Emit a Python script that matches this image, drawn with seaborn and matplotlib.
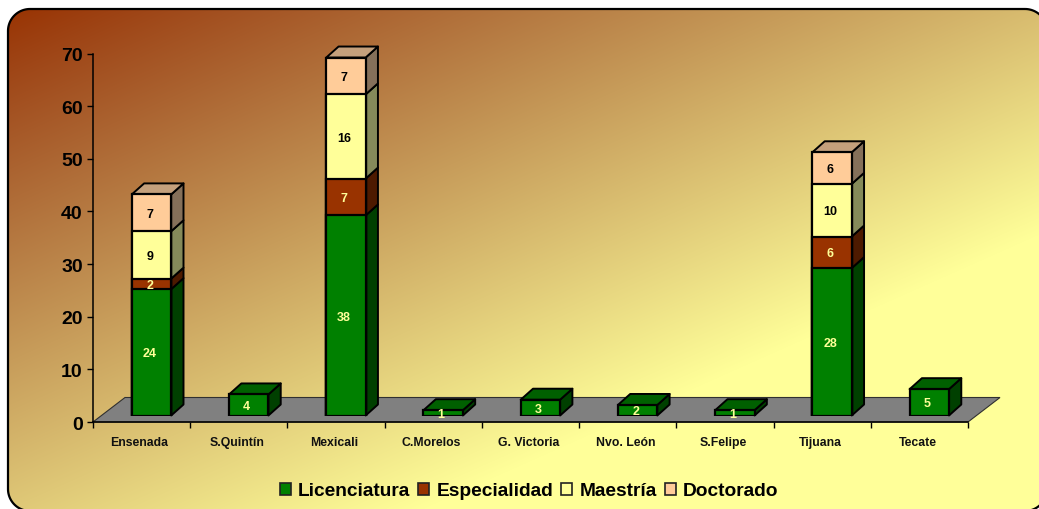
import numpy as np
import pandas as pd
import matplotlib
matplotlib.use("Agg")
import matplotlib.pyplot as plt
from matplotlib.patches import Polygon, Patch
from matplotlib.transforms import ScaledTranslation
import seaborn as sns

campuses = ["Ensenada", "S.Quintín", "Mexicali", "C.Morelos", "G. Victoria",
            "Nvo. León", "S.Felipe", "Tijuana", "Tecate"]
licenciatura = [24, 4, 38, 1, 3, 2, 1, 28, 5]
especialidad = [2, 0, 7, 0, 0, 0, 0, 6, 0]
maestria = [9, 0, 16, 0, 0, 0, 0, 10, 0]
doctorado = [7, 0, 7, 0, 0, 0, 0, 6, 0]
y_ticks = [0, 10, 20, 30, 40, 50, 60, 70]

series_names = ["Licenciatura", "Especialidad", "Maestría", "Doctorado"]
series_vals = [licenciatura, especialidad, maestria, doctorado]
front_cols = ["#008000", "#993300", "#FFFF99", "#FFCC99"]
side_cols = ["#004000", "#4D1A00", "#858A5A", "#85705A"]
top_cols = ["#006000", "#732600", "#BFBF73", "#C4A07C"]
label_cols = ["#FFFF99", "#FFFF99", "#000000", "#000000"]

sns.set_theme(style="white")
plt.rcParams["font.family"] = ["Liberation Sans", "DejaVu Sans"]

W, H = 1039, 510
fig = plt.figure(figsize=(W / 100, H / 100), dpi=100, facecolor="white")


def rect(left, top, right, bottom):
    return [left / W, 1 - bottom / H, (right - left) / W, (bottom - top) / H]


def round_rect_points(l, t, r, b, rad, n=24):
    """Outline of a rounded rectangle as a polyline (screen-style y, downwards)."""
    pts = []
    corners = [(r - rad, t + rad, -90), (r - rad, b - rad, 0),
               (l + rad, b - rad, 90), (l + rad, t + rad, 180)]
    for cx, cy, start in corners:
        a = np.radians(np.linspace(start, start + 90, n))
        pts.append(np.column_stack([cx + rad * np.cos(a), cy + rad * np.sin(a)]))
    return np.vstack(pts)


# Background gradient in a rounded frame
bg = fig.add_axes([0, 0, 1, 1], zorder=0)
bg.set_xlim(0, W)
bg.set_ylim(H, 0)
bg.axis("off")
xx, yy = np.meshgrid(np.arange(W) + .5, np.arange(H) + .5)
t = np.clip(0.00065 * (xx - 8) + 0.00146 * (yy - 10), 0, 1)
c0 = np.array([0x99, 0x33, 0x00]) / 255
c1 = np.array([0xFF, 0xFF, 0x99]) / 255
grad = np.dstack([c0[j] + (c1[j] - c0[j]) * t ** e for j, e in enumerate([1.2, 1.0, 0.8])])
im = bg.imshow(grad, extent=(0, W, H, 0), aspect="auto", interpolation="bilinear")
frame = Polygon(round_rect_points(8, 10, 1047, 512, 22), closed=True, fc="none", ec="black",
                lw=1.6, zorder=3, clip_on=False)
bg.add_patch(frame)
im.set_clip_path(frame)

# Main axes: scale, axis lines, floor
AX_L, AX_R, AX_T, AX_B = 93, 968, 54.5, 423
ax = fig.add_axes(rect(AX_L, AX_T, AX_R, AX_B), zorder=1)
ax.patch.set_visible(False)
x_pos = np.arange(len(campuses))
ax.set_xlim(-0.5, len(campuses) - 0.5)
ax.set_ylim(0, 70)
px_x = (len(campuses)) / (AX_R - AX_L)
px_y = 70 / (AX_B - AX_T)

floor_dx, floor_dy = 32 * px_x, 24.5 * px_y
ax.add_patch(Polygon([(-0.5, 0), (8.5, 0), (8.5 + floor_dx, floor_dy), (-0.5 + floor_dx, floor_dy)],
                     closed=True, fc="#808080", ec="#303030", lw=0.8, clip_on=False, zorder=1))
for s in ["top", "right"]:
    ax.spines[s].set_visible(False)
for s in ["left", "bottom"]:
    ax.spines[s].set_color("black")
    ax.spines[s].set_linewidth(1.1)
ax.set_yticks(y_ticks)
ax.set_xticks(x_pos)
ax.set_xticklabels(campuses, fontsize=8.8, fontweight="bold", color="#111111")
ax.set_xticks(np.arange(-0.5, len(campuses)), minor=True)
ax.tick_params(axis="x", which="major", length=0, pad=10, bottom=False)
ax.tick_params(axis="x", which="minor", length=4.3, width=1, color="black", bottom=True)
ax.tick_params(axis="y", length=4.3, width=1, color="black", left=True, pad=3,
               labelsize=14, labelcolor="black")
for lab in ax.get_yticklabels():
    lab.set_fontweight("bold")
shift = ScaledTranslation(-2 / 100, 0, fig.dpi_scale_trans)
for lab in ax.get_xticklabels():
    lab.set_transform(lab.get_transform() + shift)

# Bars axes: same scale, moved to the middle of the floor depth
BAR_DX, BAR_DY = 9.9, 6.5
bar_ax = fig.add_axes(rect(AX_L + BAR_DX, AX_T - BAR_DY, AX_R + BAR_DX, AX_B - BAR_DY), zorder=2)
bar_ax.patch.set_visible(False)

arr = np.array(series_vals, dtype=float)
cum = arr.cumsum(axis=0)
BAR_W = 0.405
for i in range(len(series_names) - 1, -1, -1):
    df = pd.DataFrame({"Campus": campuses, "Valor": cum[i], "own": arr[i]})
    df = df[df["own"] > 0]
    sns.barplot(data=df, x="Campus", y="Valor", order=campuses, color=front_cols[i],
                saturation=1, width=BAR_W, edgecolor="black", linewidth=1.6,
                errorbar=None, ax=bar_ax, zorder=3)
bar_ax.set_xlim(-0.5, len(campuses) - 0.5)
bar_ax.set_ylim(0, 70)
bar_ax.axis("off")

d_x, d_y = 12.3 * px_x, 11 * px_y
for k in x_pos:
    right = k + BAR_W / 2
    left = k - BAR_W / 2
    top_i = max(i for i in range(len(series_names)) if arr[i, k] > 0)
    for i in range(top_i + 1):
        if arr[i, k] <= 0:
            continue
        lo, hi = cum[i, k] - arr[i, k], cum[i, k]
        bar_ax.add_patch(Polygon([(right, lo), (right + d_x, lo + d_y), (right + d_x, hi + d_y), (right, hi)],
                                 closed=True, fc=side_cols[i], ec="black", lw=1.4,
                                 clip_on=False, zorder=2, joinstyle="round"))
        bar_ax.text(k - 0.02, (lo + hi) / 2 - 0.2, f"{int(arr[i, k])}", ha="center", va="center",
                    fontsize=9, fontweight="bold", color=label_cols[i], zorder=5)
    hi = cum[top_i, k]
    bar_ax.add_patch(Polygon([(left, hi), (right, hi), (right + d_x, hi + d_y), (left + d_x, hi + d_y)],
                             closed=True, fc=top_cols[top_i], ec="black", lw=1.4,
                             clip_on=False, zorder=2, joinstyle="round"))

# Legend
handles = [Patch(fc=c, ec="#222222", lw=1.2) for c in front_cols]
leg = fig.legend(handles, series_names, ncol=4, loc="center", bbox_to_anchor=(529 / W, 1 - 492 / H),
                 frameon=False, prop={"size": 13.8, "weight": "bold", "family": "Liberation Sans"},
                 handlelength=0.57, handleheight=0.57,
                 handletextpad=0.38, columnspacing=0.42, borderpad=0, borderaxespad=0)
for tx in leg.get_texts():
    tx.set_color("black")

fig.savefig("out.png", dpi=100)
